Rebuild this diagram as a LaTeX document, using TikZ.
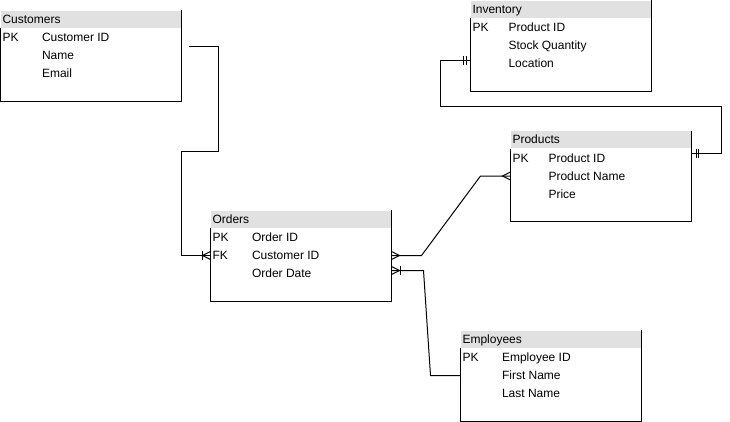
\documentclass[tikz,border=0pt]{standalone}
\usepackage{fontspec}
\setmainfont{Liberation Sans}
\usetikzlibrary{calc}
\usetikzlibrary{positioning}
\definecolor{hdrgray}{HTML}{E1E1E1}

\begin{document}
\begin{tikzpicture}[x=0.75pt,y=-0.75pt,line width=0.75pt,
		tbl/.style={minimum width=135pt,minimum height=67.5pt,inner sep=0pt,anchor=north west},
		hdr/.style={fill=hdrgray,minimum width=135pt,minimum height=12.75pt,inner sep=0pt,anchor=north west},
		txt/.style={font=\fontsize{9}{10}\selectfont,inner sep=0pt,text height=6.45pt,text depth=0pt,anchor=west},
		crow/.pic={\draw (0,-4) -- (8,0) -- (0,4);},
		crowbar/.pic={\draw (0,-4) -- (8,0) -- (0,4); \draw (8.5,-4.5) -- (8.5,4.5);},
		twobar/.pic={\draw (4.5,-4.5) -- (4.5,4.5) (7,-4.5) -- (7,4.5);}]
		\useasboundingbox (0,0) rectangle (730,421);
		% Customers
		\node[hdr] (cust-h) at (0.5,10) {};
		\node[tbl] (cust) at (0.5,10) {};
		\draw (cust.north east) -- (cust.south east) -- (cust.south west) -- (cust-h.south west);
		\node[txt] (cust-t) at ($(cust-h.west)+(1.5,0)$) {Customers};
		\node[txt] (cust-pk) at ($(cust-h.south west)+(1.5,9.5)$) {PK};
		\foreach \f [count=\i] in {Customer ID,Name,Email}
			\node[txt] (cust-\i) at ($(cust-h.south west)+(41,{18*\i-8.5})$) {\f};
		% Inventory
		\node[hdr] (inv-h) at (470.5,0) {};
		\node[tbl] (inv) at (470.5,0) {};
		\draw (inv.north east) -- (inv.south east) -- (inv.south west) -- (inv-h.south west);
		\node[txt] (inv-t) at ($(inv-h.west)+(1.5,0)$) {Inventory};
		\node[txt] (inv-pk) at ($(inv-h.south west)+(1.5,9.5)$) {PK};
		\foreach \f [count=\i] in {Product ID,Stock Quantity,Location}
			\node[txt] (inv-\i) at ($(inv-h.south west)+(37.5,{18*\i-8.5})$) {\f};
		% Products
		\node[hdr] (prod-h) at (510.5,130.5) {};
		\node[tbl] (prod) at (510.5,130.5) {};
		\draw (prod.north east) -- (prod.south east) -- (prod.south west) -- (prod-h.south west);
		\node[txt] (prod-t) at ($(prod-h.west)+(1.5,0)$) {Products};
		\node[txt] (prod-pk) at ($(prod-h.south west)+(1.5,9.5)$) {PK};
		\foreach \f [count=\i] in {Product ID,Product Name,Price}
			\node[txt] (prod-\i) at ($(prod-h.south west)+(37.5,{18*\i-8.5})$) {\f};
		% Orders
		\node[hdr] (ord-h) at (210.5,210) {};
		\node[tbl] (ord) at (210.5,210) {};
		\draw (ord.north east) -- (ord.south east) -- (ord.south west) -- (ord-h.south west);
		\node[txt] (ord-t) at ($(ord-h.west)+(1.5,0)$) {Orders};
		\node[txt] (ord-pk) at ($(ord-h.south west)+(1.5,9.5)$) {PK};
		\node[txt] (ord-fk) at ($(ord-h.south west)+(1.5,27.5)$) {FK};
		\foreach \f [count=\i] in {Order ID,Customer ID,Order Date}
			\node[txt] (ord-\i) at ($(ord-h.south west)+(41,{18*\i-8.5})$) {\f};
		% Employees
		\node[hdr] (emp-h) at (460.5,330) {};
		\node[tbl] (emp) at (460.5,330) {};
		\draw (emp.north east) -- (emp.south east) -- (emp.south west) -- (emp-h.south west);
		\node[txt] (emp-t) at ($(emp-h.west)+(1.5,0)$) {Employees};
		\node[txt] (emp-pk) at ($(emp-h.south west)+(1.5,9.5)$) {PK};
		\foreach \f [count=\i] in {Employee ID,First Name,Last Name}
			\node[txt] (emp-\i) at ($(emp-h.south west)+(41,{18*\i-8.5})$) {\f};
		% Customers to Orders
		\coordinate (c-out) at ($(cust.north east)+(7.5,36.5)$);
		\draw (c-out) -- ++(29,0) -- ++(0,105) -- ++(-37,0) |- (ord-2 -| ord.west);
		\pic[xscale=-1] at (ord-2 -| ord.west) {crowbar};
		% Orders to Products
		\draw (ord-2 -| ord.east) -- ++(30,0) -- ($(prod-2 -| prod.west)+(-30,0)$) -- (prod-2 -| prod.west);
		\pic at (ord-2 -| ord.east) {crow};
		\pic[xscale=-1] at (prod-2 -| prod.west) {crow};
		% Orders to Employees
		\coordinate (o-emp) at ($(ord.north east)+(0,60.5)$);
		\draw (o-emp) -- ++(32,0) -- ($(emp-2 -| emp.west)+(-30,0)$) -- (emp-2 -| emp.west);
		\pic at (o-emp) {crowbar};
		% Inventory to Products
		\coordinate (i-in) at ($(inv.north west)+(0,60.5)$);
		\coordinate (p-in) at ($(prod.north east)+(0,22.5)$);
		\draw (i-in) -- ++(-30,0) -- ++(0,46) -| ($(p-in)+(30,0)$) -- (p-in);
		\pic[xscale=-1] at (i-in) {twobar};
		\pic at (p-in) {twobar};
	\end{tikzpicture}
\end{document}
